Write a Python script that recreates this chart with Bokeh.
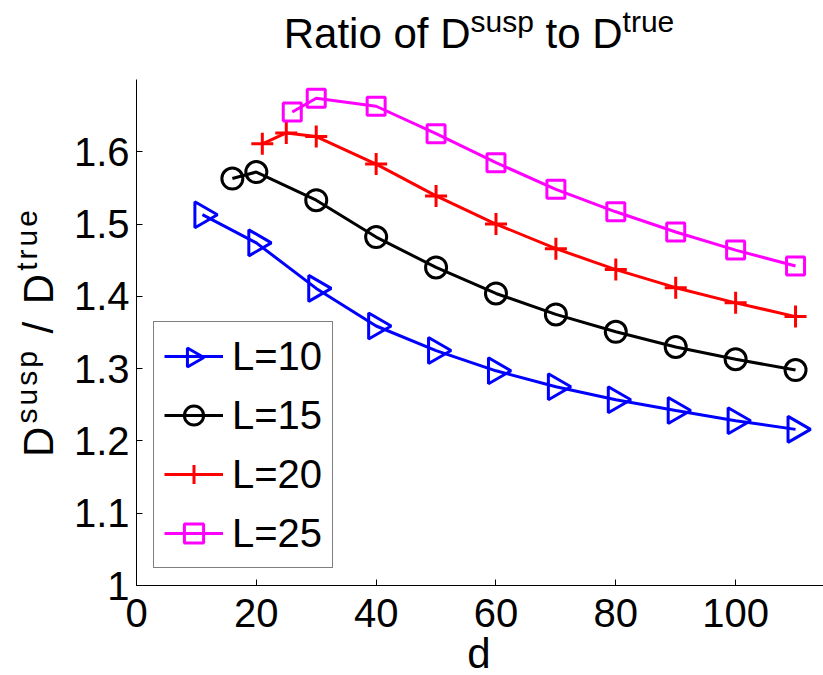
import numpy as np
from bokeh.plotting import figure
from bokeh.models import Range1d, FixedTicker, Legend, LegendItem, Div
from bokeh.layouts import column, row
from bokeh.embed import file_html
from bokeh.resources import INLINE

# ---- data ----
d10 = [11, 20, 30, 40, 50, 60, 70, 80, 90, 100, 110]
r10 = [1.513, 1.474, 1.411, 1.359, 1.325, 1.297, 1.275, 1.257, 1.242, 1.228, 1.216]
d15 = [16, 20, 30, 40, 50, 60, 70, 80, 90, 100, 110]
r15 = [1.563, 1.572, 1.533, 1.482, 1.440, 1.404, 1.375, 1.351, 1.330, 1.313, 1.298]
d20 = [21, 25, 30, 40, 50, 60, 70, 80, 90, 100, 110]
r20 = [1.611, 1.626, 1.621, 1.583, 1.539, 1.500, 1.466, 1.437, 1.412, 1.391, 1.372]
d25 = [26, 30, 40, 50, 60, 70, 80, 90, 100, 110]
r25 = [1.655, 1.674, 1.663, 1.625, 1.585, 1.548, 1.517, 1.489, 1.464, 1.442]
series_labels = ["L=10", "L=15", "L=20", "L=25"]
x_ticks = [0, 20, 40, 60, 80, 100]
y_ticks = [1, 1.1, 1.2, 1.3, 1.4, 1.5, 1.6]
y_tick_labels = ["1", "1.1", "1.2", "1.3", "1.4", "1.5", "1.6"]

FONT = "Liberation Sans"
W, H = 823, 675
TITLE_H = 60          # title strip above the plot
YLAB_W = 70           # y-label strip left of the plot
XLAB_H = 35           # x-label strip below the plot
PW, PH = W - YLAB_W, H - TITLE_H - XLAB_H
LB, RB, TB, BB = 65, 0, 19, 55
FW, FH = PW - LB - RB, PH - TB - BB
XMAX = FW / 6.0
YMIN, YMAX = 1.0, 1.7

p = figure(width=PW, height=PH, output_backend="svg", toolbar_location=None,
           title=None,
           x_range=Range1d(0, XMAX), y_range=Range1d(YMIN, YMAX),
           min_border_left=LB, min_border_right=RB,
           min_border_top=TB, min_border_bottom=BB)
p.outline_line_color = None
p.xgrid.visible = False
p.ygrid.visible = False
p.background_fill_color = "white"
p.border_fill_color = "white"

for ax in (p.xaxis[0], p.yaxis[0]):
    ax.axis_line_color = "black"
    ax.axis_line_width = 1
    ax.major_tick_line_color = "black"
    ax.major_tick_in = 6
    ax.major_tick_out = 0
    ax.minor_tick_line_color = None
    ax.major_label_text_font = FONT
    ax.major_label_text_font_size = "40px"
    ax.major_label_text_color = "black"
p.xaxis.ticker = FixedTicker(ticks=x_ticks)
p.yaxis.ticker = FixedTicker(ticks=y_ticks)
p.yaxis.major_label_overrides = {t: s for t, s in zip(y_ticks, y_tick_labels)}
p.xaxis.major_label_standoff = 13
p.yaxis.major_label_standoff = 7

colors = ["#0000ff", "#000000", "#ff0000", "#ff00ff"]
markers = ["triangle", "circle", "cross", "square"]
sizes = [26, 21, 22, 18]
angles = [-np.pi / 2, 0, 0, 0]
xs = [d10, d15, d20, d25]
ys = [r10, r15, r20, r25]

# legend geometry (pixels)
LEG_OFF, LEG_PAD, ROW_H, ROW_SP, GLYPH_W = 17, 10, 48, 11, 59

items = []
for i, (x, y, c, m, s, a, lab) in enumerate(zip(xs, ys, colors, markers, sizes, angles, series_labels)):
    lr = p.line(x, y, line_color=c, line_width=3)
    sr = p.scatter(x, y, marker=m, size=s, angle=a, line_color=c, line_width=3,
                   fill_color=None)
    if a == 0:
        items.append(LegendItem(label=lab, renderers=[lr, sr]))
    else:
        items.append(LegendItem(label=lab, renderers=[lr]))

# rotated (right-pointing) key marker for the first legend row: the legend
# itself always draws markers unrotated, so it is placed on the key position
n_rows = len(series_labels)
leg_h = 2 * LEG_PAD + n_rows * ROW_H + (n_rows - 1) * ROW_SP
key_px = LEG_OFF + LEG_PAD + GLYPH_W / 2                 # from frame left
key_py = LEG_OFF + leg_h - LEG_PAD - ROW_H / 2           # from frame bottom
key_x = key_px / FW * XMAX
key_y = YMIN + key_py / FH * (YMAX - YMIN)
p.scatter([key_x], [key_y], marker="triangle", size=19, angle=-np.pi / 2,
          line_color=colors[0], line_width=3, fill_color=None)

legend = Legend(items=items, location=(LEG_OFF, LEG_OFF))
legend.label_text_font = FONT
legend.label_text_font_size = "40px"
legend.label_text_color = "black"
legend.border_line_color = "black"
legend.border_line_width = 1
legend.background_fill_color = "white"
legend.background_fill_alpha = 0
legend.padding = LEG_PAD
legend.spacing = ROW_SP
legend.glyph_width = GLYPH_W
legend.glyph_height = ROW_H
legend.label_height = ROW_H
legend.label_standoff = 9
legend.margin = 0
p.add_layout(legend, "center")

# ---- texts with superscripts, as HTML ----
BIG, SUP, RAISE = 42, 30, 16
BASE_OFF = 35.5   # baseline distance from the line-box top for line-height = BIG px

def rich(main1, sup1, main2, sup2):
    sup = f"font-size:{SUP}px;position:relative;top:-{RAISE}px;"
    return (f"{main1}<span style='{sup}'>{sup1}</span>{main2}"
            f"<span style='{sup}'>{sup2}</span>")

frame_cx = YLAB_W + LB + FW / 2        # page x of plot centre
frame_cy = TITLE_H + TB + FH / 2       # page y of plot centre

common = (f"position:absolute;white-space:nowrap;font-family:'{FONT}';"
          f"font-size:{BIG}px;line-height:{BIG}px;color:black;transform-origin:0 0;")

title_div = Div(width=W, height=TITLE_H, margin=(0, 0, 0, 0), text=(
    f"<div style='position:relative;width:{W}px;height:{TITLE_H}px;'>"
    f"<div style=\"{common}left:{frame_cx}px;top:48px;"
    f"transform:translate(-50%,-{BASE_OFF}px);\">"
    + rich("Ratio of D", "susp", " to D", "true") + "</div></div>"))

# y label: centred on the plot height, reading upwards
ylab_div = Div(width=YLAB_W, height=PH, margin=(0, 0, 0, 0), text=(
    f"<div style='position:relative;width:{YLAB_W}px;height:{PH}px;'>"
    f"<div style=\"{common}letter-spacing:3px;left:53px;top:{frame_cy - TITLE_H}px;"
    f"transform:rotate(-90deg) translate(-50%,-{BASE_OFF}px);\">"
    + rich("D", "susp", " / D", "true") + "</div></div>"))

xlab_div = Div(width=W, height=XLAB_H, margin=(0, 0, 0, 0), text=(
    f"<div style='position:relative;width:{W}px;height:{XLAB_H}px;'>"
    f"<div style=\"{common}left:{frame_cx}px;top:{668 - (H - XLAB_H)}px;"
    f"transform:translate(-50%,-{BASE_OFF}px);\">d</div></div>"))

layout = column(title_div, row(ylab_div, p, spacing=0), xlab_div, spacing=0)

open("out.html", "w").write(file_html(layout, INLINE))
